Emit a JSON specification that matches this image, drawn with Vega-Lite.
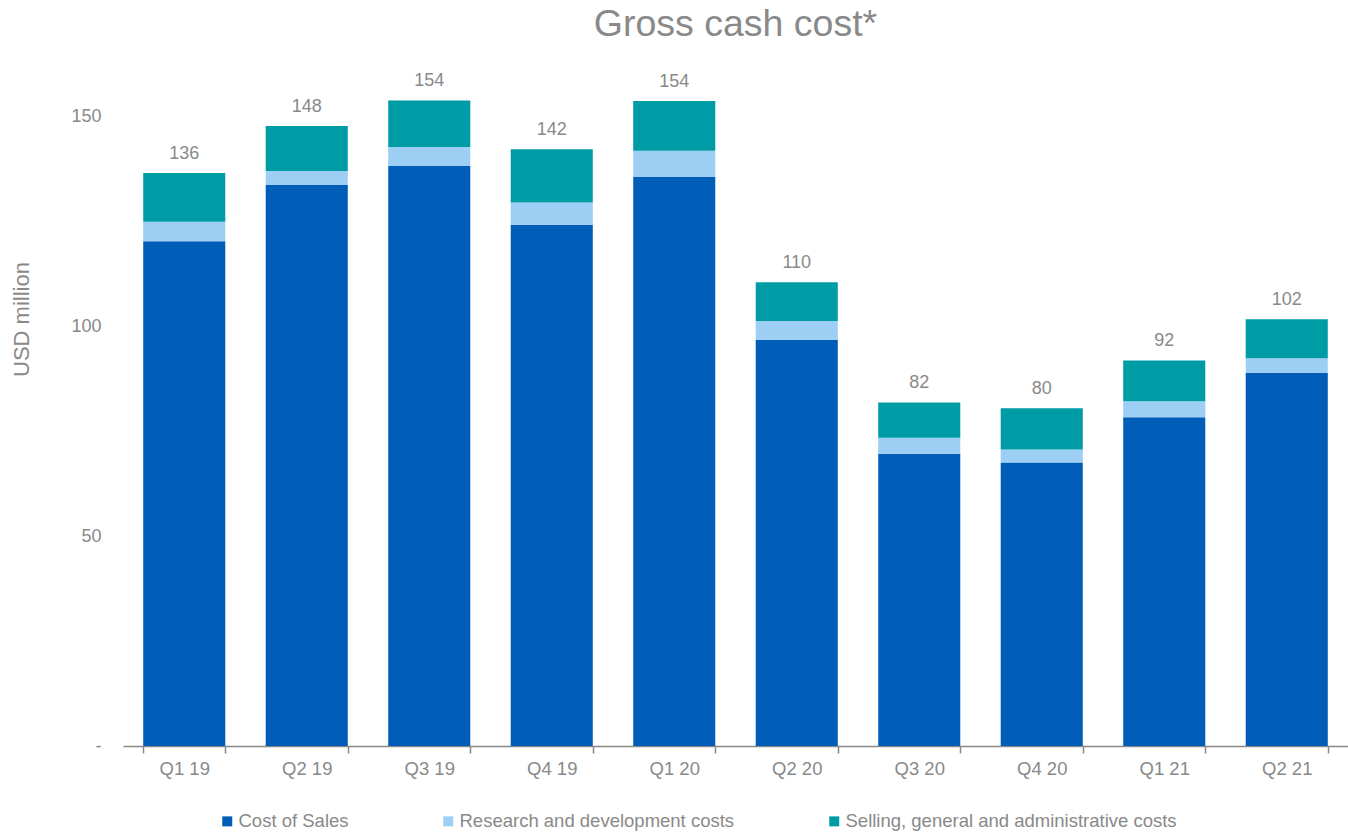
{
  "$schema": "https://vega.github.io/schema/vega-lite/v6.json",
  "width": 1225,
  "height": 672,
  "autosize": {"type": "none"},
  "padding": {"left": 123, "top": 74, "right": 0, "bottom": 87},
  "background": "white",
  "title": {"text": "Gross cash cost*", "fontSize": 37.5, "font": "Liberation Sans", "fontWeight": "normal", "color": "#898989", "anchor": "middle", "baseline": "bottom", "offset": 32, "dy": 41},
  "config": {"view": {"stroke": null}, "font": "Liberation Sans"},
  "data": {
    "values": [
      {"quarter": "Q1 19", "category": "Cost of Sales", "ord": 1, "value": 120.2},
      {"quarter": "Q1 19", "category": "Research and development costs", "ord": 2, "value": 4.6},
      {"quarter": "Q1 19", "category": "Selling, general and administrative costs", "ord": 3, "value": 11.6},
      {"quarter": "Q2 19", "category": "Cost of Sales", "ord": 1, "value": 133.6},
      {"quarter": "Q2 19", "category": "Research and development costs", "ord": 2, "value": 3.3},
      {"quarter": "Q2 19", "category": "Selling, general and administrative costs", "ord": 3, "value": 10.7},
      {"quarter": "Q3 19", "category": "Cost of Sales", "ord": 1, "value": 138.1},
      {"quarter": "Q3 19", "category": "Research and development costs", "ord": 2, "value": 4.5},
      {"quarter": "Q3 19", "category": "Selling, general and administrative costs", "ord": 3, "value": 11.1},
      {"quarter": "Q4 19", "category": "Cost of Sales", "ord": 1, "value": 124.1},
      {"quarter": "Q4 19", "category": "Research and development costs", "ord": 2, "value": 5.3},
      {"quarter": "Q4 19", "category": "Selling, general and administrative costs", "ord": 3, "value": 12.7},
      {"quarter": "Q1 20", "category": "Cost of Sales", "ord": 1, "value": 135.5},
      {"quarter": "Q1 20", "category": "Research and development costs", "ord": 2, "value": 6.2},
      {"quarter": "Q1 20", "category": "Selling, general and administrative costs", "ord": 3, "value": 11.9},
      {"quarter": "Q2 20", "category": "Cost of Sales", "ord": 1, "value": 96.7},
      {"quarter": "Q2 20", "category": "Research and development costs", "ord": 2, "value": 4.5},
      {"quarter": "Q2 20", "category": "Selling, general and administrative costs", "ord": 3, "value": 9.2},
      {"quarter": "Q3 20", "category": "Cost of Sales", "ord": 1, "value": 69.6},
      {"quarter": "Q3 20", "category": "Research and development costs", "ord": 2, "value": 3.8},
      {"quarter": "Q3 20", "category": "Selling, general and administrative costs", "ord": 3, "value": 8.4},
      {"quarter": "Q4 20", "category": "Cost of Sales", "ord": 1, "value": 67.5},
      {"quarter": "Q4 20", "category": "Research and development costs", "ord": 2, "value": 3.1},
      {"quarter": "Q4 20", "category": "Selling, general and administrative costs", "ord": 3, "value": 9.8},
      {"quarter": "Q1 21", "category": "Cost of Sales", "ord": 1, "value": 78.3},
      {"quarter": "Q1 21", "category": "Research and development costs", "ord": 2, "value": 3.8},
      {"quarter": "Q1 21", "category": "Selling, general and administrative costs", "ord": 3, "value": 9.7},
      {"quarter": "Q2 21", "category": "Cost of Sales", "ord": 1, "value": 88.8},
      {"quarter": "Q2 21", "category": "Research and development costs", "ord": 2, "value": 3.5},
      {"quarter": "Q2 21", "category": "Selling, general and administrative costs", "ord": 3, "value": 9.3}
    ]
  },
  "encoding": {
    "x": {
      "field": "quarter",
      "type": "nominal",
      "sort": ["Q1 19", "Q2 19", "Q3 19", "Q4 19", "Q1 20", "Q2 20", "Q3 20", "Q4 20", "Q1 21", "Q2 21"],
      "scale": {"paddingInner": 0.33, "paddingOuter": 0.165},
      "axis": {"title": null, "labelAngle": 0, "domainColor": "#898989", "domainWidth": 1.5, "tickColor": "#898989", "tickWidth": 1.5, "tickSize": 7, "tickBand": "extent", "labelPadding": 6, "labelFontSize": 18.5, "labelColor": "#898989", "grid": false}
    }
  },
  "layer": [
    {
      "mark": {"type": "bar"},
      "encoding": {
        "y": {
          "field": "value",
          "type": "quantitative",
          "stack": "zero",
          "scale": {"domain": [0, 160]},
          "axis": {"title": "USD million", "values": [0, 50, 100, 150], "labelExpr": "datum.value == 0 ? '-' : datum.label", "encode": {"labels": {"update": {"dx": {"signal": "datum.value == 0 ? -10 : 0"}}}}, "grid": false, "domain": false, "ticks": false, "labelPadding": 22, "labelFontSize": 18, "labelColor": "#898989", "titleFontSize": 22, "titleColor": "#898989", "titleFontWeight": "normal", "titleX": -102, "titleY": 245, "titleAngle": -90, "titleBaseline": "middle", "titleAlign": "center"}
        },
        "color": {
          "field": "category",
          "type": "nominal",
          "scale": {"domain": ["Cost of Sales", "Research and development costs", "Selling, general and administrative costs"], "range": ["#005EB8", "#9DCEF3", "#009CA6"]},
          "legend": {"title": null, "orient": "none", "legendX": 95, "legendY": 738, "direction": "horizontal", "symbolType": "square", "symbolSize": 100, "labelFontSize": 18.5, "labelColor": "#898989", "columnPadding": 90, "labelOffset": 2, "labelLimit": 600, "symbolStrokeWidth": 0}
        },
        "order": {"field": "ord", "type": "quantitative"}
      }
    },
    {
      "transform": [{"aggregate": [{"op": "sum", "field": "value", "as": "total"}], "groupby": ["quarter"]}],
      "mark": {"type": "text", "dy": -14, "baseline": "alphabetic", "fontSize": 18, "color": "#898989"},
      "encoding": {
        "y": {"field": "total", "type": "quantitative"},
        "text": {"field": "total", "type": "quantitative", "format": ".0f"}
      }
    }
  ]
}
